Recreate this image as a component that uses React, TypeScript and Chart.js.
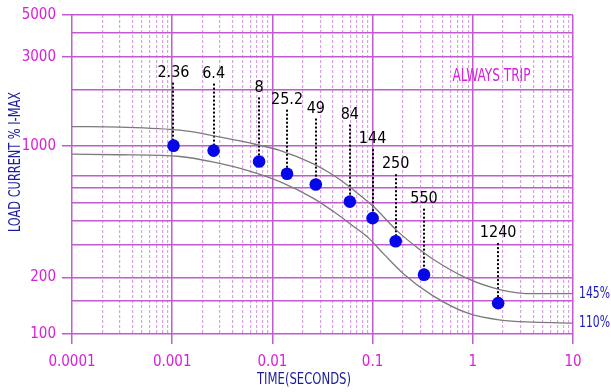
import React, { useEffect, useRef } from 'react';
import { Chart, registerables } from 'chart.js';

Chart.register(...registerables);

// ---- axis ticks ----
const TIME_TICKS = [0.0001, 0.001, 0.01, 0.1, 1, 10];
const TIME_TICK_LABELS = ['0.0001', '0.001', '0.01', '0.1', '1', '10'];
const LOAD_GRID = [100, 150, 200, 300, 400, 500, 600, 700, 1000, 2000, 3000, 4000, 5000];
const LOAD_TICKS = [100, 200, 1000, 3000, 5000];
const LOAD_TICK_LABELS = ['100', '200', '1000', '3000', '5000'];

// ---- test points ----
const testTimes = [0.00103, 0.00259, 0.00736, 0.014, 0.0271, 0.0593, 0.1, 0.17, 0.326, 1.79];
const testLoads = [1007, 948, 830, 714, 625, 507, 414, 312, 207, 146];
const testLabels = ['2.36', '6.4', '8', '25.2', '49', '84', '144', '250', '550', '1240'];

// ---- 145% curve ----
const upperTimes = [0.0001, 0.0003, 0.0012, 0.0026, 0.0056, 0.012, 0.0257, 0.0407, 0.0646, 0.102, 0.178, 0.282, 0.398, 0.891, 1.9, 4.07, 10];
const upperLoads = [1273, 1265, 1217, 1137, 1048, 948, 806, 700, 584, 477, 352, 287, 251, 197, 172, 164, 164];

// ---- 110% curve ----
const lowerTimes = [0.0001, 0.0003, 0.0012, 0.0026, 0.0056, 0.012, 0.0257, 0.0407, 0.0646, 0.0891, 0.129, 0.204, 0.398, 0.891, 1.9, 4.07, 10];
const lowerLoads = [907, 901, 882, 823, 744, 646, 528, 449, 374, 328, 267, 209, 160, 129, 118.5, 115.6, 114.3];

const curveNames = ['145%', '110%'];
const zoneLabel = 'ALWAYS TRIP';
const xTitle = 'TIME(SECONDS)';
const yTitle = 'LOAD CURRENT % I-MAX';

// ---- styles ----
const FONT = "'Liberation Sans Narrow', 'Arial Narrow', 'DejaVu Sans Condensed', 'Liberation Sans', sans-serif";
const TICK_COLOR = '#d820d8';
const GRID_MAJOR = '#c25ad0';
const GRID_MINOR = '#d8a2e2';
const TITLE_COLOR = '#1c1c9c';
const CURVE_LABEL_COLOR = '#1a1ac4';
const POINT_COLOR = '#0606ea';
const CURVE_COLOR = '#7a7a7a';
const LABEL_LIFT = [73, 77, 74, 74, 76, 87, 79, 77, 76, 70];

const X_GRID: number[] = (() => {
  const out: number[] = [];
  for (let e = -4; e <= 0; e++) {
    for (let m = 1; m <= 9; m++) out.push(Number((m * Math.pow(10, e)).toPrecision(6)));
  }
  out.push(10);
  return out;
})();

const near = (a: number, b: number) => Math.abs(Math.log10(a) - Math.log10(b)) < 1e-6;
const isDecade = (v: number) => TIME_TICKS.some((t) => near(t, v));
const isLoadTick = (v: number) => LOAD_TICKS.some((t) => near(t, v));

function drawText(
  ctx: CanvasRenderingContext2D,
  text: string,
  x: number,
  y: number,
  font: string,
  color: string,
  align: CanvasTextAlign,
  maxWidth?: number,
  rotate?: number
) {
  ctx.save();
  ctx.font = font;
  ctx.fillStyle = color;
  ctx.textAlign = align;
  ctx.textBaseline = 'middle';
  ctx.translate(x, y);
  if (rotate) ctx.rotate(rotate);
  if (maxWidth) {
    const w = ctx.measureText(text).width;
    if (w > maxWidth) ctx.scale(maxWidth / w, 1);
  }
  ctx.fillText(text, 0, 0);
  ctx.restore();
}

const annotatePlugin = {
  id: 'annotate',
  beforeDatasetsDraw(chart: any) {
    const { ctx } = chart;
    const x = chart.scales.x;
    const y = chart.scales.y;
    ctx.save();
    ctx.strokeStyle = '#000000';
    ctx.lineWidth = 2;
    ctx.setLineDash([2, 2]);
    testTimes.forEach((t, i) => {
      const px = Math.round(x.getPixelForValue(t));
      const py = y.getPixelForValue(testLoads[i]);
      const top = py - LABEL_LIFT[i] + 10;
      ctx.beginPath();
      ctx.moveTo(px, top);
      ctx.lineTo(px, py);
      ctx.stroke();
    });
    ctx.restore();
  },
  afterDatasetsDraw(chart: any) {
    const { ctx, chartArea } = chart;
    const x = chart.scales.x;
    const y = chart.scales.y;
    testTimes.forEach((t, i) => {
      const px = x.getPixelForValue(t);
      const py = y.getPixelForValue(testLoads[i]);
      drawText(ctx, testLabels[i], px, py - LABEL_LIFT[i], `16px ${FONT}`, '#000000', 'center');
    });
    drawText(ctx, zoneLabel, chartArea.right - 81.5, chartArea.top + 61.5, `17px ${FONT}`, TICK_COLOR, 'center', 78);
    const ends = [upperLoads[upperLoads.length - 1], lowerLoads[lowerLoads.length - 1]];
    ends.forEach((v, i) => {
      drawText(ctx, curveNames[i], chartArea.right + 6, y.getPixelForValue(v), `16px ${FONT}`, CURVE_LABEL_COLOR, 'left', 31);
    });
  },
  afterDraw(chart: any) {
    const { ctx, chartArea } = chart;
    drawText(ctx, yTitle, 16, chartArea.top + 147, `16px ${FONT}`, TITLE_COLOR, 'center', 140, -Math.PI / 2);
    drawText(ctx, xTitle, chartArea.left + 232, chartArea.bottom + 46, `16px ${FONT}`, TITLE_COLOR, 'center', 94);
  },
};

export default function App() {
  const canvasRef = useRef<HTMLCanvasElement | null>(null);

  useEffect(() => {
    const canvas = canvasRef.current;
    if (!canvas) return;
    const toXY = (xs: number[], ys: number[]) => xs.map((v, i) => ({ x: v, y: ys[i] }));
    const chart = new Chart(canvas, {
      type: 'line',
      data: {
        datasets: [
          {
            label: curveNames[0],
            data: toXY(upperTimes, upperLoads),
            borderColor: CURVE_COLOR,
            borderWidth: 1.3,
            pointRadius: 0,
            cubicInterpolationMode: 'monotone',
            fill: false,
          },
          {
            label: curveNames[1],
            data: toXY(lowerTimes, lowerLoads),
            borderColor: CURVE_COLOR,
            borderWidth: 1.3,
            pointRadius: 0,
            cubicInterpolationMode: 'monotone',
            fill: false,
          },
          {
            label: 'Test points',
            data: toXY(testTimes, testLoads),
            showLine: false,
            pointRadius: 6.3,
            pointBackgroundColor: POINT_COLOR,
            pointBorderColor: POINT_COLOR,
            pointBorderWidth: 0,
          },
        ],
      },
      options: {
        responsive: false,
        animation: false,
        devicePixelRatio: 1,
        layout: { padding: { top: 11, right: 38, left: 0, bottom: 0 } },
        plugins: { legend: { display: false }, tooltip: { enabled: false } },
        scales: {
          x: {
            type: 'logarithmic',
            position: 'bottom',
            min: 0.0001,
            max: 10,
            afterBuildTicks: (s: any) => {
              s.ticks = X_GRID.map((v) => ({ value: v }));
            },
            afterFit: (s: any) => {
              s.height = 58;
            },
            ticks: {
              autoSkip: false,
              maxRotation: 0,
              minRotation: 0,
              padding: 9,
              color: TICK_COLOR,
              font: { family: FONT, size: 15 },
              callback: (value: any) => {
                const i = TIME_TICKS.findIndex((t) => near(t, Number(value)));
                return i >= 0 ? TIME_TICK_LABELS[i] : '';
              },
            },
            grid: {
              color: (c: any) => (c.tick && isDecade(c.tick.value) ? GRID_MAJOR : GRID_MINOR),
              lineWidth: (c: any) => (c.tick && isDecade(c.tick.value) ? 1.5 : 1.2),
              tickLength: 10,
              tickWidth: 1.5,
              tickColor: (c: any) => (c.tick && isDecade(c.tick.value) ? GRID_MAJOR : 'rgba(0,0,0,0)'),
            },
            border: {
              display: false,
              dash: (c: any) => (c.tick && !isDecade(c.tick.value) ? [3, 2] : []),
            },
          },
          y: {
            type: 'logarithmic',
            min: 100,
            max: 5000,
            afterBuildTicks: (s: any) => {
              s.ticks = LOAD_GRID.map((v) => ({ value: v }));
            },
            afterFit: (s: any) => {
              s.width = 72;
            },
            ticks: {
              autoSkip: false,
              padding: 6,
              color: TICK_COLOR,
              font: { family: FONT, size: 15 },
              callback: (value: any) => {
                const i = LOAD_TICKS.findIndex((t) => near(t, Number(value)));
                return i >= 0 ? LOAD_TICK_LABELS[i] : '';
              },
            },
            grid: {
              color: GRID_MAJOR,
              lineWidth: 1.5,
              tickLength: 10,
              tickWidth: 1.5,
              tickColor: (c: any) => (c.tick && isLoadTick(c.tick.value) ? GRID_MAJOR : 'rgba(0,0,0,0)'),
            },
            border: { display: false },
          },
        },
      },
      plugins: [annotatePlugin],
    } as any);
    return () => chart.destroy();
  }, []);

  return (
    <div style={{ position: 'fixed', left: 0, top: 0, width: 611, height: 392, background: '#ffffff' }}>
      <canvas ref={canvasRef} width={611} height={392} style={{ display: 'block', width: 611, height: 392 }} />
    </div>
  );
}
